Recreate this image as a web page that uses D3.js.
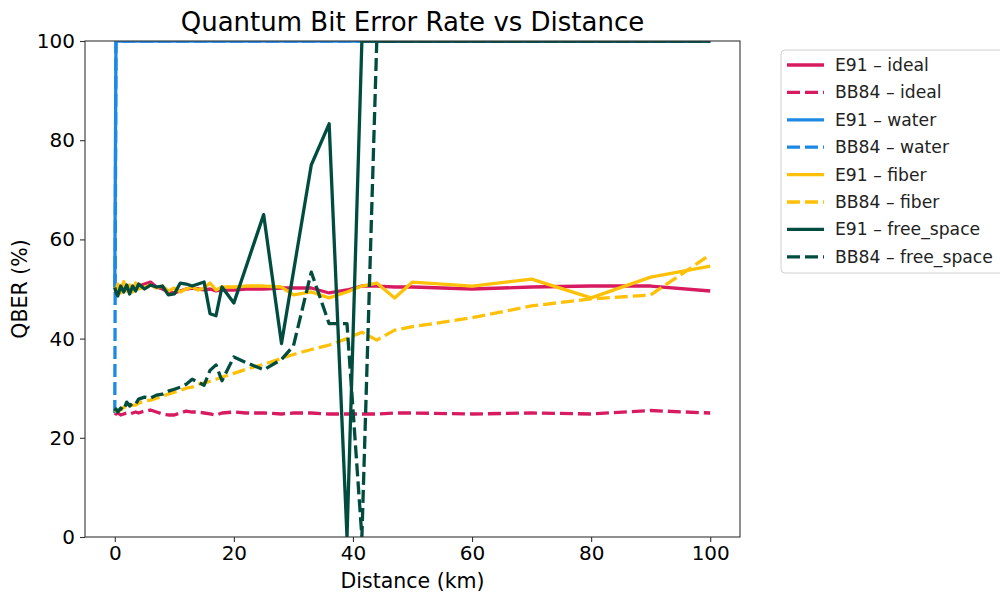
<!DOCTYPE html>
<html>
<head>
<meta charset="utf-8">
<script src="https://cdn.jsdelivr.net/npm/d3@7"></script>
<style>
  body { margin: 0; background: #fff; }
  svg { display: block; font-family: "DejaVu Sans", sans-serif; }
</style>
</head>
<body>
<svg id="chart" width="1000" height="594"></svg>
<script>
// ---------------- data ----------------
const distances = [0, 0.2, 0.5, 1, 1.5, 2, 2.5, 3, 3.5, 4, 5, 6, 7, 8, 9, 10, 11, 12, 13, 14, 15, 16, 17, 18, 20, 22, 25, 28, 30, 33, 36, 39, 41.5, 44, 47, 50, 60, 70, 80, 90, 100];

const e91Ideal  = [50, 49.8, 49.6, 50.2, 49.8, 50.4, 50, 49.8, 50.4, 50.6, 51, 51.4, 50.4, 50, 49.4, 49.2, 49.6, 50, 50.2, 50, 49.8, 50, 49.6, 49.8, 49.8, 50, 50, 50.2, 50.2, 50.2, 49.2, 49.8, 50.6, 50.6, 50.4, 50.4, 50, 50.4, 50.6, 50.6, 49.6];
const bb84Ideal = [25, 24.8, 25, 24.6, 24.8, 25, 24.8, 25, 25.2, 25, 25.4, 25.6, 25.2, 24.8, 24.6, 24.6, 25, 25.4, 25.2, 25.2, 25, 24.8, 24.6, 25, 25.2, 25, 25, 24.8, 25, 25, 24.8, 24.8, 24.8, 24.8, 25, 25, 24.8, 25, 24.8, 25.5, 25];
const e91Water  = [50, 100, 100, 100, 100, 100, 100, 100, 100, 100, 100, 100, 100, 100, 100, 100, 100, 100, 100, 100, 100, 100, 100, 100, 100, 100, 100, 100, 100, 100, 100, 100, 100, 100, 100, 100, 100, 100, 100, 100, 100];
const bb84Water = [25, 100, 100, 100, 100, 100, 100, 100, 100, 100, 100, 100, 100, 100, 100, 100, 100, 100, 100, 100, 100, 100, 100, 100, 100, 100, 100, 100, 100, 100, 100, 100, 100, 100, 100, 100, 100, 100, 100, 100, 100];
const e91Fiber  = [50.4, 49.6, 51, 49.2, 51.5, 49.6, 50.8, 49.4, 51.2, 50, 50.4, 50.8, 50.2, 50.6, 49.6, 50.2, 49.4, 50, 50.4, 49.8, 50.2, 51.2, 49.8, 50.4, 50.4, 50.6, 50.6, 50.4, 48.8, 49.4, 48.2, 49.4, 50.6, 51.2, 48.2, 51.4, 50.6, 52, 48.2, 52.4, 54.6];
const bb84Fiber = [25.2, 25.4, 25.6, 25.6, 26.2, 26, 26.4, 26.6, 26.6, 27, 27.4, 27.6, 28, 28.4, 28.8, 29.2, 29.6, 30, 30.2, 30.8, 31, 31.4, 31.8, 32.2, 33, 33.8, 34.8, 36, 36.8, 37.8, 38.7, 40, 41.3, 39.7, 41.7, 42.4, 44.2, 46.6, 48, 48.8, 56.9];
const e91Free   = [50.3, 49.4, 48.6, 50.6, 49.4, 50.8, 49, 50.6, 49.6, 51, 50, 50.8, 50.4, 50.6, 48.8, 49, 51.2, 51, 50.6, 51, 51.4, 45, 44.6, 50.4, 47.2, 54.3, 65, 39, 53.4, 75, 83.3, 0, 100, 100, 100, 100, 100, 100, 100, 100, 100];
const bb84Free  = [25.4, 25.8, 25.2, 26, 25.6, 27.2, 26.4, 27, 26.8, 27.8, 28.2, 28, 28.6, 28.8, 29.4, 29.8, 30.2, 30.8, 31.8, 31.2, 30.6, 33.6, 34.7, 31.5, 36.3, 35.2, 33.7, 35.8, 38.5, 53.4, 43, 43, 0, 100, 100, 100, 100, 100, 100, 100, 100];

const seriesNames = ["E91 – ideal", "BB84 – ideal", "E91 – water", "BB84 – water", "E91 – fiber", "BB84 – fiber", "E91 – free_space", "BB84 – free_space"];
const seriesValues = [e91Ideal, bb84Ideal, e91Water, bb84Water, e91Fiber, bb84Fiber, e91Free, bb84Free];
const seriesColors = ["#d81b60", "#d81b60", "#1e88e5", "#1e88e5", "#ffc107", "#ffc107", "#004d40", "#004d40"];
const seriesDashed = [false, true, false, true, false, true, false, true];

const xTicks = [0, 20, 40, 60, 80, 100];
const yTicks = [0, 20, 40, 60, 80, 100];

// ---------------- layout ----------------
const svg = d3.select("#chart");
const L = 85, R = 740, T = 41, B = 537;
const x = d3.scaleLinear().domain([-5, 105]).range([L, R]);
const y = d3.scaleLinear().domain([0, 100]).range([B, T]);

svg.append("defs").append("clipPath").attr("id", "plotclip")
  .append("rect").attr("x", L).attr("y", T).attr("width", R - L).attr("height", B - T);

// lines
const line = d3.line().x((d, i) => x(distances[i])).y(d => y(d));
const gLines = svg.append("g").attr("clip-path", "url(#plotclip)");
seriesValues.forEach((vals, k) => {
  gLines.append("path")
    .attr("d", line(vals))
    .attr("fill", "none")
    .attr("stroke", seriesColors[k])
    .attr("stroke-width", 3.3)
    .attr("stroke-linejoin", "round")
    .attr("stroke-dasharray", seriesDashed[k] ? "13,5" : null);
});

// frame
svg.append("rect").attr("x", L).attr("y", T).attr("width", R - L).attr("height", B - T)
  .attr("fill", "none").attr("stroke", "#333").attr("stroke-width", 1.1);

// axes
const xAxis = svg.append("g").attr("transform", `translate(0,${B})`)
  .call(d3.axisBottom(x).tickValues(xTicks).tickSize(5).tickPadding(4).tickFormat(d3.format("d")));
const yAxis = svg.append("g").attr("transform", `translate(${L},0)`)
  .call(d3.axisLeft(y).tickValues(yTicks).tickSize(5).tickPadding(5).tickFormat(d3.format("d")));
[xAxis, yAxis].forEach(g => {
  g.select(".domain").remove();
  g.selectAll(".tick line").attr("stroke", "#333").attr("stroke-width", 1.1);
  g.selectAll(".tick text").attr("fill", "#000").style("font-size", "20px").style("font-family", "DejaVu Sans");
});

// title & labels
svg.append("text").attr("x", (L + R) / 2).attr("y", 31).attr("text-anchor", "middle")
  .style("font-size", "26px").text("Quantum Bit Error Rate vs Distance");
svg.append("text").attr("x", (L + R) / 2).attr("y", 588).attr("text-anchor", "middle")
  .style("font-size", "20.5px").text("Distance (km)");
svg.append("text").attr("transform", `translate(27,${(T + B) / 2}) rotate(-90)`).attr("text-anchor", "middle")
  .style("font-size", "20.5px").text("QBER (%)");

// legend
const lg = svg.append("g");
lg.append("rect").attr("x", 781).attr("y", 50).attr("width", 230).attr("height", 223)
  .attr("rx", 4).attr("fill", "#fff").attr("stroke", "#d0d0d0").attr("stroke-width", 1);
seriesNames.forEach((name, k) => {
  const yy = 65 + k * 27.4;
  lg.append("line").attr("x1", 787).attr("x2", 824).attr("y1", yy).attr("y2", yy)
    .attr("stroke", seriesColors[k]).attr("stroke-width", 3.3)
    .attr("stroke-dasharray", seriesDashed[k] ? "13,5" : null);
  lg.append("text").attr("x", 835).attr("y", yy + 6).style("font-size", "17.2px").attr("fill", "#222").text(name);
});
</script>
</body>
</html>
